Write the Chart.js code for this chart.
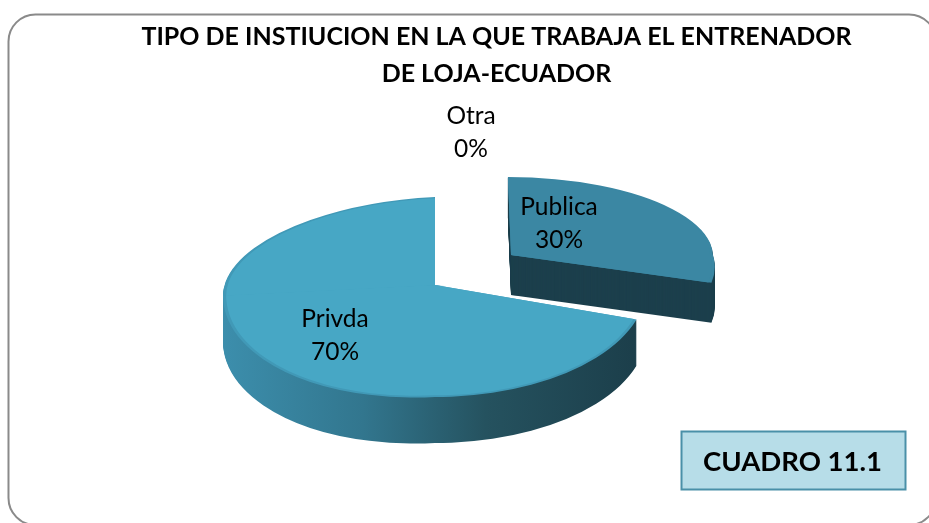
<!DOCTYPE html>
<html>
<head>
<meta charset="utf-8">
<script src="https://cdn.jsdelivr.net/npm/chart.js@4"></script>
<style>html,body{margin:0;padding:0;background:#fff}canvas{display:block}</style>
</head>
<body>
<canvas id="c" width="929" height="523"></canvas>
<script>
const categories = ['Publica', 'Privda', 'Otra'];
const shareValues = [30, 70, 0];
const titleLines = ['TIPO DE INSTIUCION EN LA QUE TRABAJA EL ENTRENADOR', 'DE LOJA-ECUADOR'];
const boxLabel = 'CUADRO 11.1';

const faceColors = ['#3b87a3', '#47a7c5', '#47a7c5'];
const rimColors = ['#3b87a3', '#4199b7', '#4199b7'];
const FONT = 'Lato, Carlito, sans-serif';

// placement of the tilted slices: apex, squash above / below the apex, wall height,
// width factor and small skews that imitate the perspective of the original
const tilt = [
  {x: 511, y: 255, up: 78 / 212, down: 90 / 212, depth: 40, wide: 202 / 212, lean: 0, riseSkew: 0.04, fallSkew: 0.3},
  {x: 435, y: 285, up: 88 / 212, down: 112 / 212, depth: 46, wide: 1, lean: 0.05, riseSkew: 0, fallSkew: 0}
];
const labelSpots = [{x: 559, y: 207}, {x: 335, y: 319}, {x: 471, y: 116}];

function withFace(ctx, arc, place, offset, shrink, paint) {
  const parts = [
    {rise: true, s: place.up, b: -place.lean, c: place.riseSkew, xmin: -2000, xmax: 2000},
    {rise: false, s: place.down, b: -place.lean, c: 0, xmin: -2000, xmax: 0},
    {rise: false, s: place.down, b: 0, c: place.fallSkew, xmin: 0, xmax: 2000}
  ];
  parts.forEach(p => {
    ctx.save();
    ctx.translate(place.x, place.y + offset);
    ctx.transform(1, p.b, p.c, 1, 0, 0);
    ctx.beginPath();
    if (p.rise) ctx.rect(p.xmin, -1000, p.xmax - p.xmin, 1000.5);
    else ctx.rect(p.xmin, 0, p.xmax - p.xmin, 1000);
    ctx.clip();
    ctx.scale(place.wide * shrink, p.s * shrink);
    ctx.translate(-arc.x, -arc.y);
    paint();
    ctx.restore();
  });
}

function paintArc(ctx, arc, fill) {
  const saved = arc.options;
  arc.options = Object.assign({}, saved, {backgroundColor: fill, borderWidth: 0});
  arc.draw(ctx);
  arc.options = saved;
}

const tiltedPie = {
  id: 'tiltedPie',
  beforeDraw(chart) {
    const ctx = chart.ctx;
    ctx.save();
    ctx.fillStyle = '#fff';
    ctx.fillRect(0, 0, 929, 523);
    ctx.strokeStyle = '#8a8a8a';
    ctx.lineWidth = 2;
    ctx.beginPath();
    ctx.roundRect(8.5, 14.5, 927.5, 510.5, 27);
    ctx.stroke();
    ctx.restore();
  },
  beforeDatasetsDraw(chart) {
    const ctx = chart.ctx;
    const arcs = chart.getDatasetMeta(0).data;
    arcs.forEach((arc, i) => {
      if (!shareValues[i] || !tilt[i]) return;
      const place = tilt[i];
      let wall = '#1c3f4c';
      if (i === 1) {
        wall = ctx.createLinearGradient(arc.x - 212, 0, arc.x + 212, 0);
        wall.addColorStop(0, '#3c8eac');
        wall.addColorStop(0.33, '#32768e');
        wall.addColorStop(0.62, '#25525f');
        wall.addColorStop(1, '#1b3d49');
      }
      for (let d = place.depth; d > 0; d--) {
        withFace(ctx, arc, place, d, 1, () => paintArc(ctx, arc, wall));
      }
      withFace(ctx, arc, place, 0, 1, () => paintArc(ctx, arc, rimColors[i]));
      withFace(ctx, arc, place, 0, 0.985, () => paintArc(ctx, arc, faceColors[i]));
    });
    return false;
  },
  afterDraw(chart) {
    const ctx = chart.ctx;
    ctx.save();
    ctx.textAlign = 'center';
    ctx.textBaseline = 'middle';
    ctx.fillStyle = '#000';
    ctx.font = '24.5px ' + FONT;
    categories.forEach((name, i) => {
      const spot = labelSpots[i];
      ctx.fillText(name, spot.x, spot.y);
      ctx.fillText(shareValues[i] + '%', spot.x, spot.y + 33);
    });
    ctx.fillStyle = '#b7dde8';
    ctx.fillRect(681.5, 431.5, 224, 58);
    ctx.strokeStyle = '#4a90a8';
    ctx.lineWidth = 2;
    ctx.strokeRect(681.5, 431.5, 224, 58);
    ctx.fillStyle = '#000';
    ctx.font = 'bold 27.5px ' + FONT;
    ctx.fillText(boxLabel, 792.5, 462);
    ctx.restore();
  }
};

new Chart(document.getElementById('c'), {
  type: 'pie',
  data: {
    labels: categories,
    datasets: [{
      data: shareValues,
      backgroundColor: faceColors,
      borderWidth: 0,
      radius: 212
    }]
  },
  options: {
    responsive: false,
    animation: false,
    rotation: 0,
    layout: {padding: {left: 64}},
    plugins: {
      legend: {display: false},
      tooltip: {enabled: false},
      title: {
        display: true,
        text: titleLines,
        color: '#000',
        font: {family: FONT, size: 25, weight: 'bold', lineHeight: 1.46},
        padding: {top: 19, bottom: 8}
      }
    }
  },
  plugins: [tiltedPie]
});
</script>
</body>
</html>
